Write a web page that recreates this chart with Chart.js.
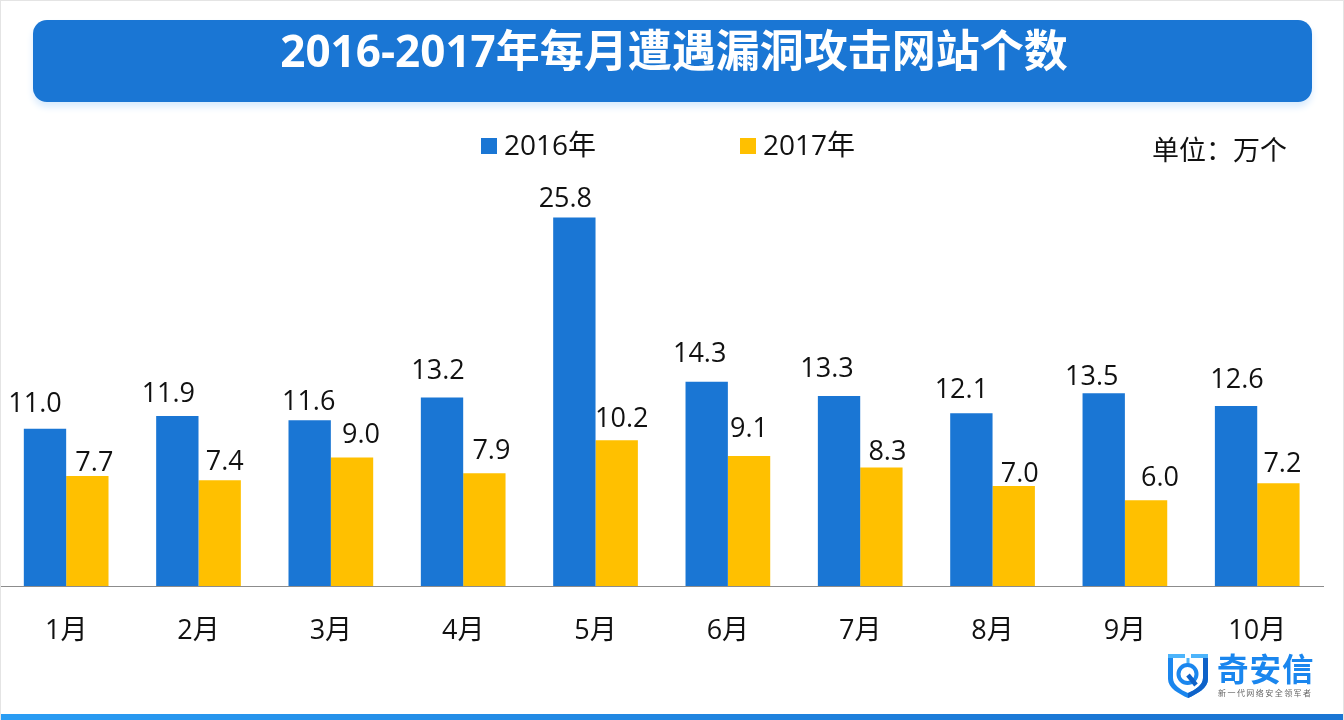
<!DOCTYPE html>
<html><head><meta charset="utf-8">
<script src="https://cdn.jsdelivr.net/npm/chart.js@4"></script>
<style>
html,body{margin:0;padding:0;background:#fff}
#page{position:relative;width:1344px;height:720px;overflow:hidden;background:#fff;box-sizing:border-box;border-top:1px solid #e4e4e4;border-left:1px solid #e4e4e4;border-right:1px solid #e4e4e4;font-family:"Open Sans","Noto Sans CJK SC",sans-serif;color:#111}
#page>*{position:absolute}
#chart{left:-1px;top:-1px}
#banner{left:32px;top:19px;width:1279px;height:82px;border-radius:14px;background:#1a76d4;box-shadow:0 5px 7px #d9ebfd;color:#fff;font-weight:700;font-size:44px;line-height:60px;text-align:center;text-indent:3px}
.lg{font-size:28px;line-height:36px;white-space:nowrap;top:125px}
.sw{width:16px;height:16px;top:137px}
#unit{left:1151px;top:130px;font-size:27px;line-height:38px;white-space:nowrap}
#bar{left:-1px;top:713px;width:1344px;height:6px;background:linear-gradient(90deg,#2a9df4,#1a76d4 85%)}
#lname{left:1216px;top:648px;font-size:31.5px;line-height:40px;font-weight:700;color:#1a86ee;letter-spacing:1px;white-space:nowrap}
#lsub{left:1217px;top:686px;font-size:8px;line-height:11px;color:#666;letter-spacing:1.45px;white-space:nowrap}
#shield{left:1166px;top:652px}
</style></head><body>
<div id="page">
<canvas id="chart" width="1344" height="720"></canvas>
<div id="banner">2016-2017年每月遭遇漏洞攻击网站个数</div>
<div class="sw" style="left:480px" id="sw0"></div><div class="lg" style="left:503px" id="lg0"></div>
<div class="sw" style="left:739px" id="sw1"></div><div class="lg" style="left:762px" id="lg1"></div>
<div id="unit">单位：万个</div>
<svg id="shield" width="42" height="46" viewBox="0 0 42 46">
<path d="M1 1H18V5H6V25C6 32 14 37 21 40C28 37 36 32 36 25V5H24V1H41V26C41 35 30 41 21 45C12 41 1 35 1 26Z" fill="#1a86ee"/>
<path d="M21 45C30 41 41 35 41 26V1H36V25C36 32 28 37 21 40Z" fill="#0f62c8"/>
<path d="M1 1H18V5H1ZM24 1H41V5H24Z" fill="#4db4fb"/>
<path d="M19.5 5H22.5V11H19.5Z" fill="#4db4fb"/>
<circle cx="20.5" cy="21" r="9" fill="none" stroke="#1a86ee" stroke-width="4"/>
<path d="M21 22L29 32" stroke="#0f62c8" stroke-width="4.5" fill="none"/>
</svg>
<div id="lname">奇安信</div>
<div id="lsub">新一代网络安全领军者</div>
<div id="bar"></div>
</div>
<script>
const categories = ["1月","2月","3月","4月","5月","6月","7月","8月","9月","10月"];
const series2016 = [11.0,11.9,11.6,13.2,25.8,14.3,13.3,12.1,13.5,12.6];
const series2017 = [7.7,7.4,9.0,7.9,10.2,9.1,8.3,7.0,6.0,7.2];
const seriesNames = ["2016年","2017年"];
const seriesColors = ["#1a76d4","#ffc000"];
const FONT = '"Open Sans","Noto Sans CJK SC",sans-serif';
// hand-placed label nudges of the original: [dx, gap above the bar to label baseline]
const labelNudges = [
  [[-10,17],[-9,14],[-1,10],[-4,18],[-9,10],[-7,20],[-12,19],[-10,15],[-12,8],[1,18]],
  [[7,5],[5,10],[9,14],[7,14],[5,13],[0,19],[6,7],[6,4],[14,14],[4,11]]
];

seriesNames.forEach((n,i)=>{
  document.getElementById('lg'+i).textContent = n;
  document.getElementById('sw'+i).style.background = seriesColors[i];
});

const valueLabels = {
  id:'valueLabels',
  afterDatasetsDraw(chart){
    const ctx = chart.ctx;
    ctx.save();
    ctx.font = '27px '+FONT;
    ctx.fillStyle = '#111';
    ctx.textAlign = 'center';
    ctx.textBaseline = 'alphabetic';
    chart.data.datasets.forEach((ds,d)=>{
      chart.getDatasetMeta(d).data.forEach((el,i)=>{
        const [dx,gap] = labelNudges[d][i];
        ctx.fillText(ds.data[i].toFixed(1), el.x + dx, el.y - gap);
      });
    });
    ctx.restore();
  }
};

new Chart(document.getElementById('chart'),{
  type:'bar',
  data:{labels:categories,datasets:[
    {label:seriesNames[0],data:series2016,backgroundColor:seriesColors[0]},
    {label:seriesNames[1],data:series2017,backgroundColor:seriesColors[1]}
  ]},
  options:{
    responsive:false,animation:false,
    layout:{padding:{top:186,right:20.6,bottom:0,left:0}},
    plugins:{legend:{display:false},title:{display:false},tooltip:{enabled:false}},
    datasets:{bar:{categoryPercentage:0.64,barPercentage:1}},
    scales:{
      x:{
        afterFit(s){s.height=134;},
        grid:{display:false,drawTicks:false},
        border:{color:'#8c8c8c',width:1},
        ticks:{color:'#111',font:{size:27,family:FONT},padding:29,maxRotation:0}
      },
      y:{display:false,min:0,max:28}
    }
  },
  plugins:[valueLabels]
});
</script>
</body></html>
